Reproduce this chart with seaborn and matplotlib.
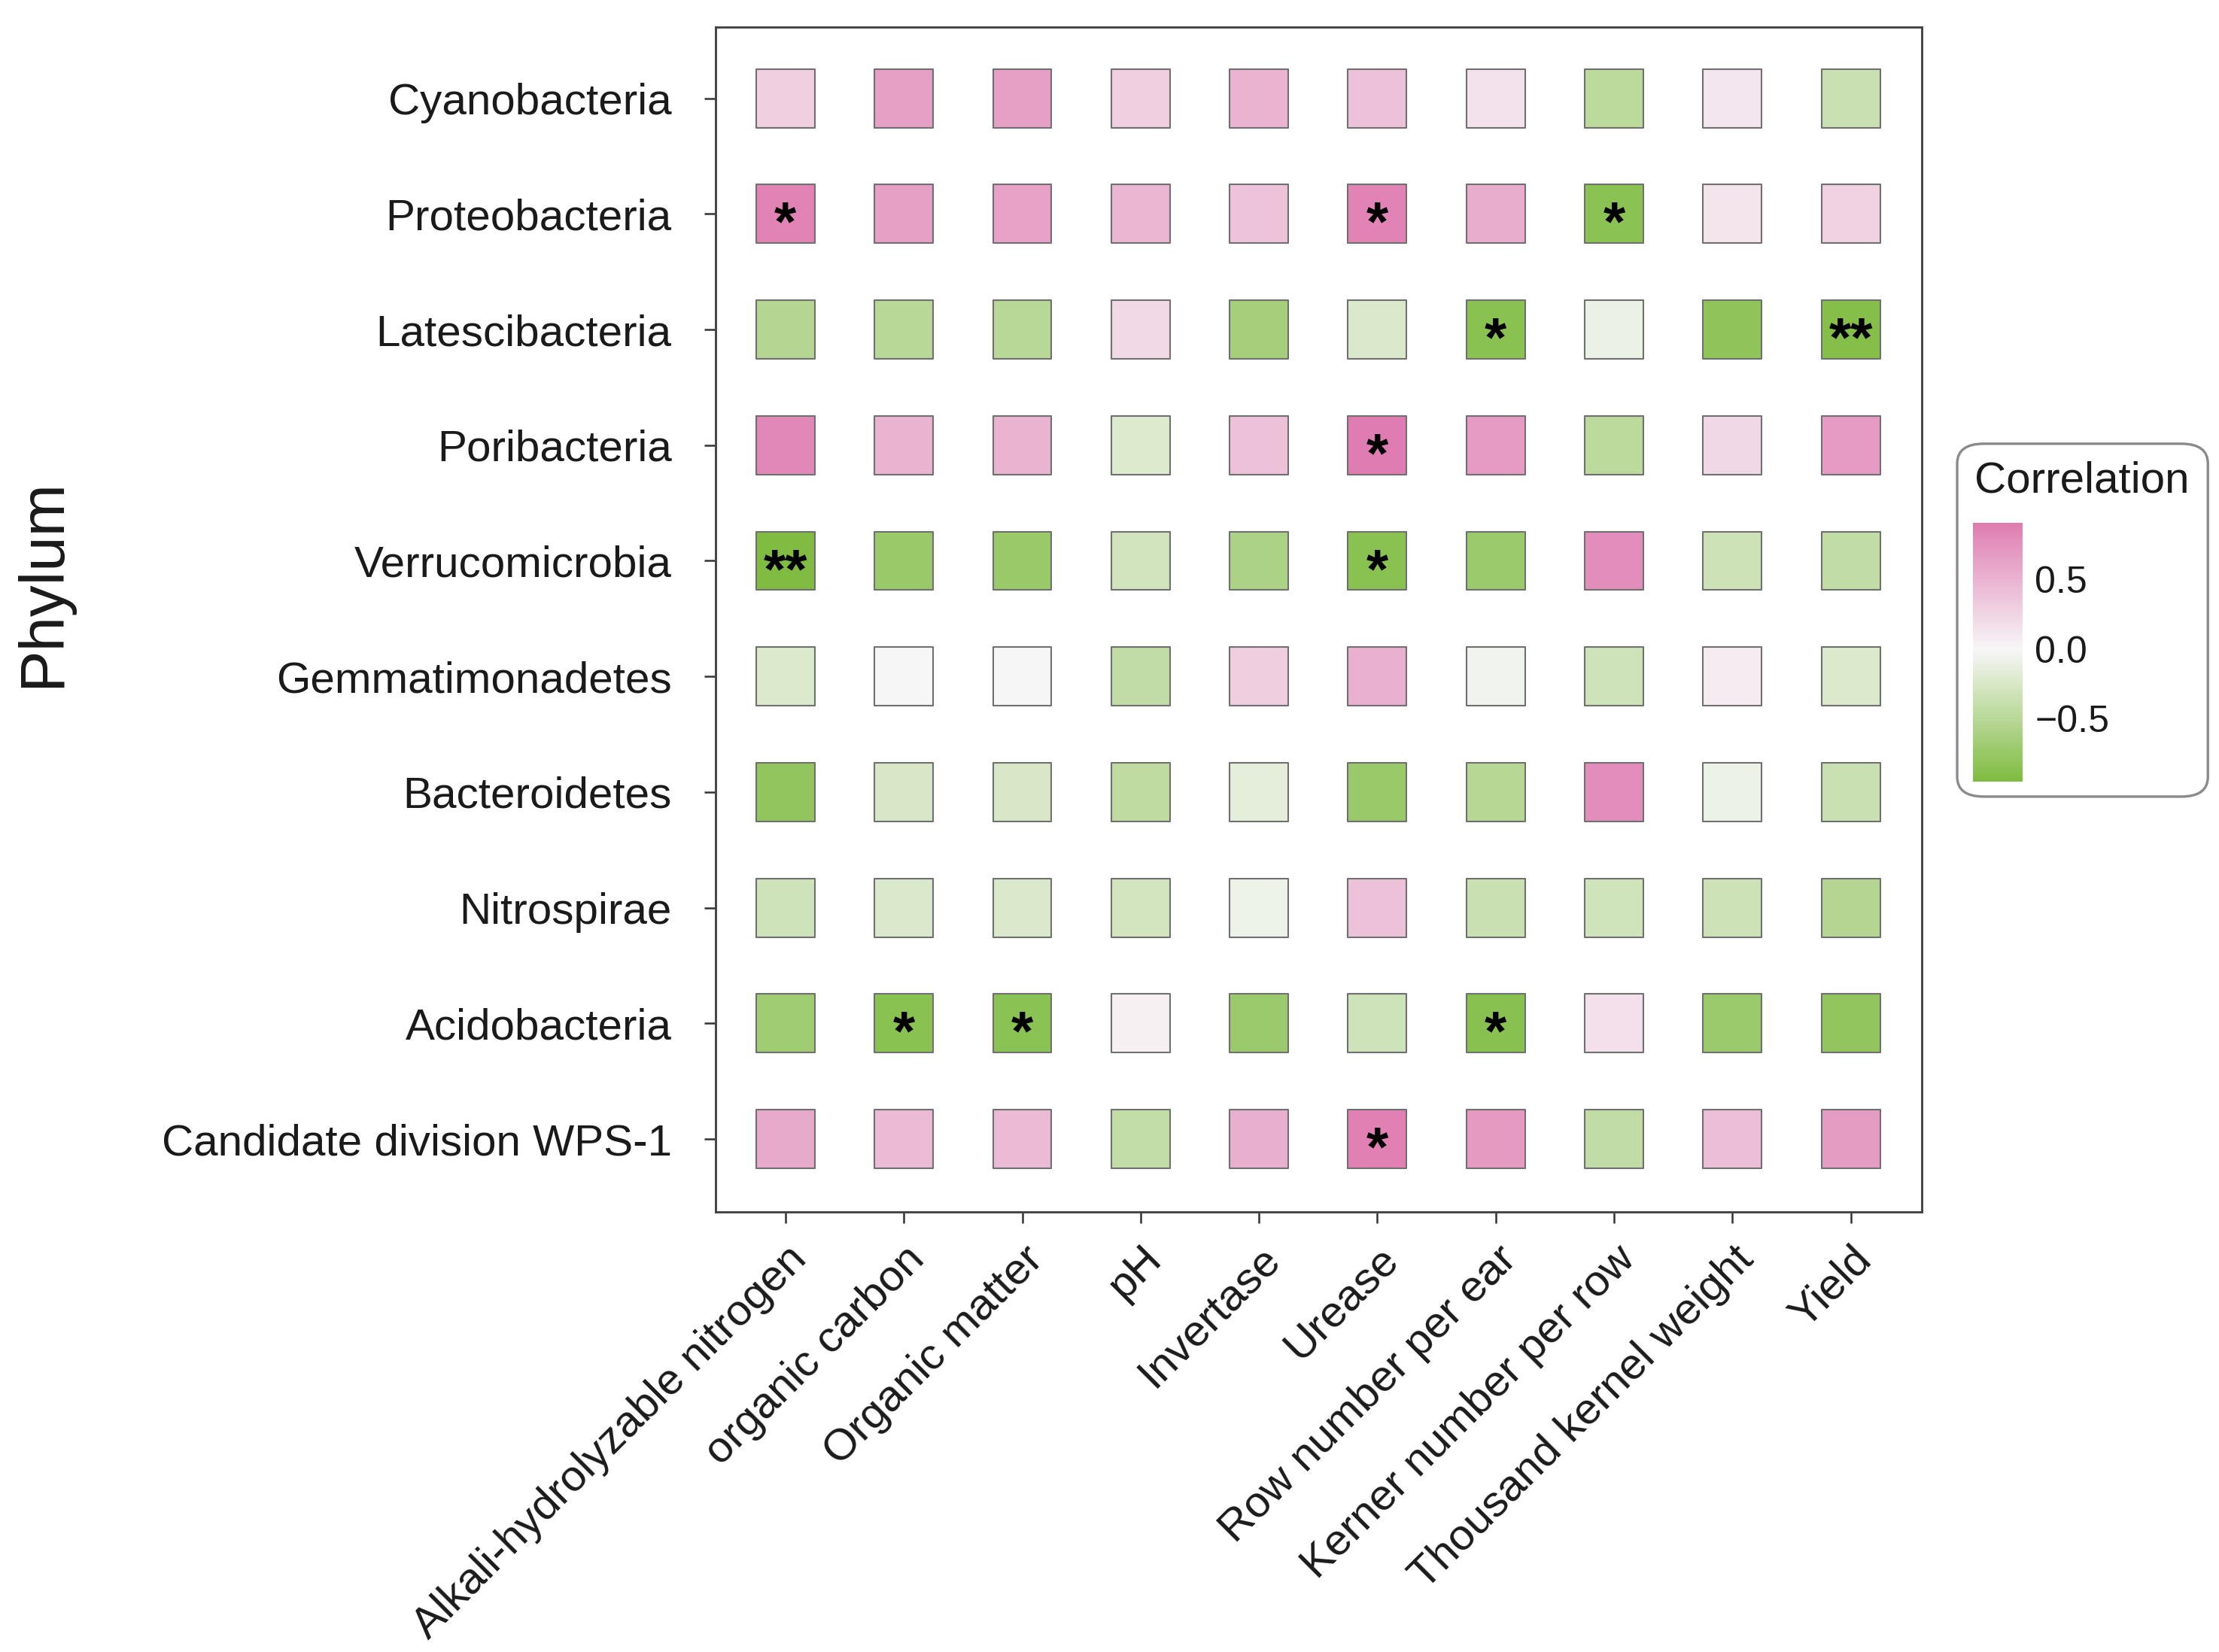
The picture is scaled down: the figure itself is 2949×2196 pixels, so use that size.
import numpy as np
import pandas as pd
import seaborn as sns
import matplotlib.pyplot as plt
from matplotlib.colors import LinearSegmentedColormap, Normalize
from matplotlib.cm import ScalarMappable
from matplotlib.patches import FancyBboxPatch

phyla = ["Cyanobacteria", "Proteobacteria", "Latescibacteria", "Poribacteria",
         "Verrucomicrobia", "Gemmatimonadetes", "Bacteroidetes", "Nitrospirae",
         "Acidobacteria", "Candidate division WPS-1"]
factors = ["Alkali-hydrolyzable nitrogen", "organic carbon", "Organic matter", "pH",
           "Invertase", "Urease", "Row number per ear", "Kerner number per row",
           "Thousand kernel weight", "Yield"]

# correlation per phylum, one value per factor (same order as factors)
r_cyano = [0.29, 0.65, 0.65, 0.29, 0.49, 0.40, 0.16, -0.47, 0.12, -0.36]
r_proteo = [0.85, 0.64, 0.62, 0.48, 0.38, 0.85, 0.55, -0.85, 0.13, 0.27]
r_latesc = [-0.52, -0.49, -0.50, 0.22, -0.65, -0.23, -0.86, -0.09, -0.81, -0.90]
r_poriba = [0.82, 0.49, 0.49, -0.21, 0.39, 0.91, 0.68, -0.47, 0.23, 0.68]
r_verruc = [-0.95, -0.74, -0.74, -0.30, -0.59, -0.86, -0.72, 0.78, -0.33, -0.43]
r_gemmat = [-0.22, 0.0, 0.0, -0.43, 0.30, 0.52, -0.05, -0.32, 0.08, -0.22]
r_bacter = [-0.80, -0.25, -0.25, -0.44, -0.15, -0.74, -0.51, 0.78, -0.08, -0.36]
r_nitros = [-0.32, -0.23, -0.23, -0.29, -0.07, 0.40, -0.36, -0.31, -0.33, -0.52]
r_acido = [-0.69, -0.86, -0.85, 0.05, -0.72, -0.32, -0.87, 0.17, -0.72, -0.80]
r_wps1 = [0.57, 0.44, 0.44, -0.42, 0.53, 0.88, 0.69, -0.43, 0.42, 0.67]

# significance marks
s_cyano = ["", "", "", "", "", "", "", "", "", ""]
s_proteo = ["*", "", "", "", "", "*", "", "*", "", ""]
s_latesc = ["", "", "", "", "", "", "*", "", "", "**"]
s_poriba = ["", "", "", "", "", "*", "", "", "", ""]
s_verruc = ["**", "", "", "", "", "*", "", "", "", ""]
s_gemmat = ["", "", "", "", "", "", "", "", "", ""]
s_bacter = ["", "", "", "", "", "", "", "", "", ""]
s_nitros = ["", "", "", "", "", "", "", "", "", ""]
s_acido = ["", "*", "*", "", "", "", "*", "", "", ""]
s_wps1 = ["", "", "", "", "", "*", "", "", "", ""]

r_rows = [r_cyano, r_proteo, r_latesc, r_poriba, r_verruc,
          r_gemmat, r_bacter, r_nitros, r_acido, r_wps1]
s_rows = [s_cyano, s_proteo, s_latesc, s_poriba, s_verruc,
          s_gemmat, s_bacter, s_nitros, s_acido, s_wps1]

records = []
for i, p in enumerate(phyla):
    for j, f in enumerate(factors):
        records.append({"phylum": p, "factor": f, "yi": i, "xi": j,
                        "r": r_rows[i][j], "sig": s_rows[i][j]})
df = pd.DataFrame(records)

sns.set_theme(style="white")
plt.rcParams["font.family"] = ["Liberation Sans", "DejaVu Sans"]
text_col = "#1a1a1a"

cmap = LinearSegmentedColormap.from_list("gw_p", ["#7fbc41", "#f7f7f7", "#de77ae"])
lim = df["r"].abs().max()
norm = Normalize(vmin=-lim, vmax=lim)

fig = plt.figure(figsize=(2949 / 300, 2196 / 300), dpi=300)
ax = fig.add_axes([0.3225, 0.2664, 0.5436, 0.7172])

sns.scatterplot(data=df, x="xi", y="yi", hue="r", palette=cmap, hue_norm=norm,
                marker="s", s=350, edgecolor="#707070", linewidth=0.5,
                legend=False, ax=ax)

for _, row in df[df["sig"] != ""].iterrows():
    ax.annotate(row["sig"], (row["xi"], row["yi"]), xytext=(0, -8.5),
                textcoords="offset points", ha="center", va="baseline",
                fontsize=18, fontweight="bold", color="black")

ax.set_xlim(-0.59, 9.6)
ax.set_ylim(9.63, -0.615)
ax.set_xticks(range(len(factors)))
ax.set_xticklabels(factors, rotation=45, ha="right", va="top",
                   rotation_mode="anchor", fontsize=14, color=text_col)
ax.set_yticks(range(len(phyla)))
ax.set_yticklabels(phyla, fontsize=14, color=text_col)
ax.set_xlabel("")
ax.set_ylabel("")
ax.tick_params(axis="both", direction="out", length=3.5, width=0.6,
               color="#333333", bottom=True, left=True)
ax.tick_params(axis="y", pad=10.5)
ax.tick_params(axis="x", pad=5)
for sp in ax.spines.values():
    sp.set_visible(True)
    sp.set_color("#444444")
    sp.set_linewidth(0.7)

fig.text(0.0193, 0.647, "Phylum", rotation=90, ha="center", va="center",
         fontsize=20, color=text_col)

# legend box
box = FancyBboxPatch((0.882, 0.5178), 0.113, 0.2136, transform=fig.transFigure,
                     boxstyle="round,pad=0,rounding_size=0.012",
                     facecolor="white", edgecolor="#8a8a8a", linewidth=0.8,
                     zorder=-1)
fig.patches.append(box)
fig.text(0.8898, 0.709, "Correlation", ha="left", va="center",
         fontsize=14, color=text_col)

cax = fig.add_axes([0.889, 0.527, 0.0224, 0.1567])
cax.set_zorder(5)
sm = ScalarMappable(norm=norm, cmap=cmap)
cb = fig.colorbar(sm, cax=cax,
                  boundaries=np.linspace(df["r"].min(), df["r"].max(), 257))
cb.outline.set_visible(False)
cb.set_ticks([-0.5, 0.0, 0.5])
cb.set_ticklabels(["\u22120.5", "0.0", "0.5"])
cax.tick_params(direction="in", length=2.5, width=0.6, color="white",
                left=True, right=True, labelsize=12, labelcolor=text_col, pad=4)

fig.savefig("out.png", dpi=300)
